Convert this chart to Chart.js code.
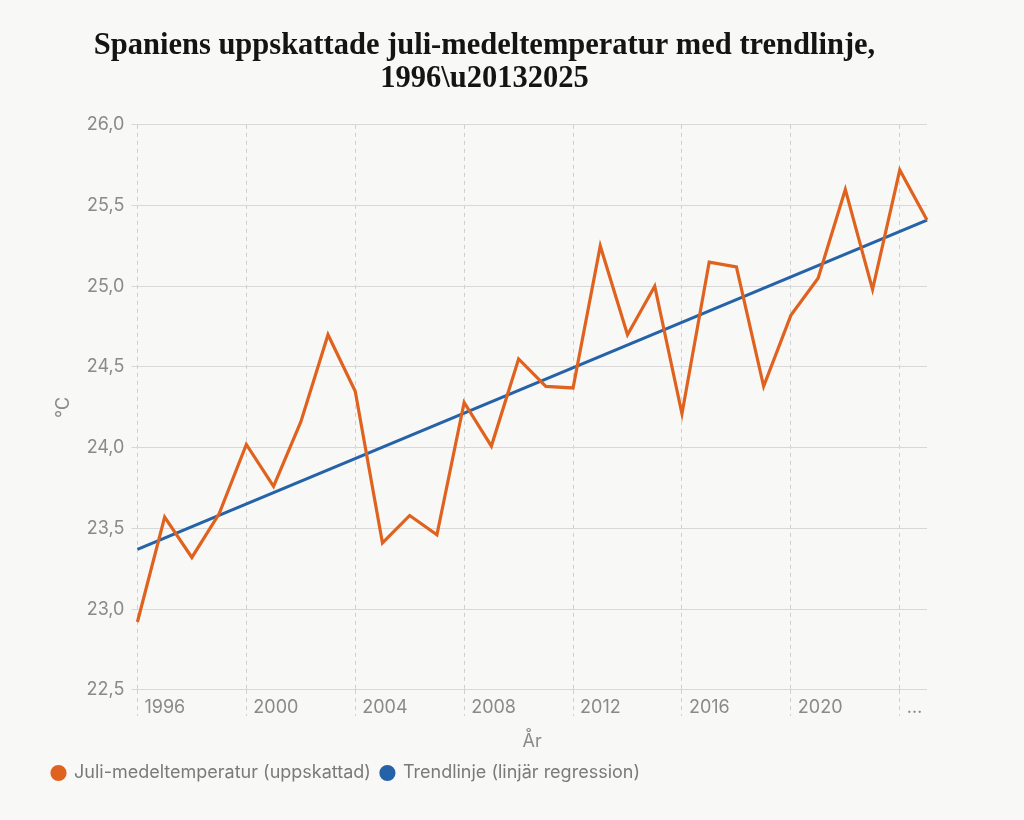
<!DOCTYPE html>
<html lang="sv">
<head>
<meta charset="utf-8">
<title>Spaniens juli-medeltemperatur</title>
<script src="https://cdn.jsdelivr.net/npm/chart.js@4.4.1/dist/chart.umd.min.js"></script>
<style>
  html, body { margin: 0; padding: 0; background: #f8f8f6; }
  #wrap { width: 1024px; height: 820px; position: relative; }
</style>
</head>
<body>
<div id="wrap"><canvas id="tempChart"></canvas></div>
<script>
const years = ['1996', '1997', '1998', '1999', '2000', '2001', '2002', '2003', '2004', '2005',
  '2006', '2007', '2008', '2009', '2010', '2011', '2012', '2013', '2014', '2015',
  '2016', '2017', '2018', '2019', '2020', '2021', '2022', '2023', '2024', '2025'];

// uppskattad juli-medeltemperatur, °C (avläst)
const julyTemp = [22.92, 23.57, 23.32, 23.59, 24.02, 23.76, 24.16, 24.70, 24.35, 23.41,
  23.58, 23.46, 24.28, 24.01, 24.55, 24.38, 24.37, 25.25, 24.70, 25.00,
  24.21, 25.15, 25.12, 24.38, 24.82, 25.05, 25.60, 24.98, 25.72, 25.41];

// trendlinje: bara ändpunkterna, linjen dras rakt mellan dem
const trendLine = [23.37, null, null, null, null, null, null, null, null, null,
  null, null, null, null, null, null, null, null, null, null,
  null, null, null, null, null, null, null, null, null, 25.41];

const xTickLabels = ['1996', '2000', '2004', '2008', '2012', '2016', '2020', '\u2026'];
const yMin = 22.5;
const yMax = 26.0;
const yStep = 0.5;

const orange = '#e0621f';
const blue = '#2562a8';
const grey = '#8a8a8a';
const sans = "Inter, 'Liberation Sans', sans-serif";

const ctx = document.getElementById('tempChart').getContext('2d');

new Chart(ctx, {
  type: 'line',
  data: {
    labels: years,
    datasets: [
      {
        label: 'Juli-medeltemperatur (uppskattad)',
        data: julyTemp,
        borderColor: orange,
        backgroundColor: orange,
        borderWidth: 3.2,
        pointRadius: 0,
        tension: 0
      },
      {
        label: 'Trendlinje (linjär regression)',
        data: trendLine,
        spanGaps: true,
        borderColor: blue,
        backgroundColor: blue,
        borderWidth: 3.2,
        pointRadius: 0,
        tension: 0
      }
    ]
  },
  options: {
    responsive: true,
    maintainAspectRatio: false,
    animation: false,
    layout: {
      padding: { left: 42, right: 97, top: 20, bottom: 28 }
    },
    scales: {
      x: {
        offset: false,
        border: { display: false, dash: [4, 4] },
        grid: {
          color: c => (c.index % 4 === 0 ? '#cfcfcf' : 'rgba(0,0,0,0)'),
          tickBorderDash: [4, 4],
          tickLength: 26,
          lineWidth: 1
        },
        ticks: {
          autoSkip: false,
          maxRotation: 0,
          align: 'start',
          labelOffset: 7,
          padding: -19,
          color: grey,
          font: { family: sans, size: 18 },
          callback: (val, i) => (i % 4 === 0 ? xTickLabels[i / 4] : '')
        },
        title: {
          display: true,
          text: 'År',
          color: grey,
          font: { family: sans, size: 18 },
          padding: { top: 31, bottom: 2 }
        }
      },
      y: {
        min: yMin,
        max: yMax,
        border: { display: false },
        grid: {
          color: '#d8d8d8',
          tickLength: 6,
          lineWidth: 1
        },
        ticks: {
          stepSize: yStep,
          padding: 7,
          color: grey,
          font: { family: sans, size: 18 },
          callback: v => v.toFixed(1).replace('.', ',')
        },
        title: {
          display: true,
          text: '°C',
          color: grey,
          font: { family: sans, size: 18 },
          padding: { top: 11, bottom: 5 }
        }
      }
    },
    plugins: {
      title: {
        display: true,
        text: ['Spaniens uppskattade juli-medeltemperatur med trendlinje,', '1996\\u20132025'],
        color: '#141414',
        font: { family: "'Liberation Serif', 'DejaVu Serif', serif", size: 30.5, weight: 'bold', lineHeight: 1.08 },
        padding: { top: 10, bottom: 29 }
      },
      legend: {
        position: 'bottom',
        align: 'start',
        labels: {
          usePointStyle: true,
          pointStyle: 'circle',
          pointStyleWidth: 13,
          boxWidth: 13,
          boxHeight: 9.2,
          color: '#7a7a7a',
          font: { family: sans, size: 18 },
          padding: 10
        }
      },
      tooltip: { enabled: false }
    }
  }
});
</script>
</body>
</html>
